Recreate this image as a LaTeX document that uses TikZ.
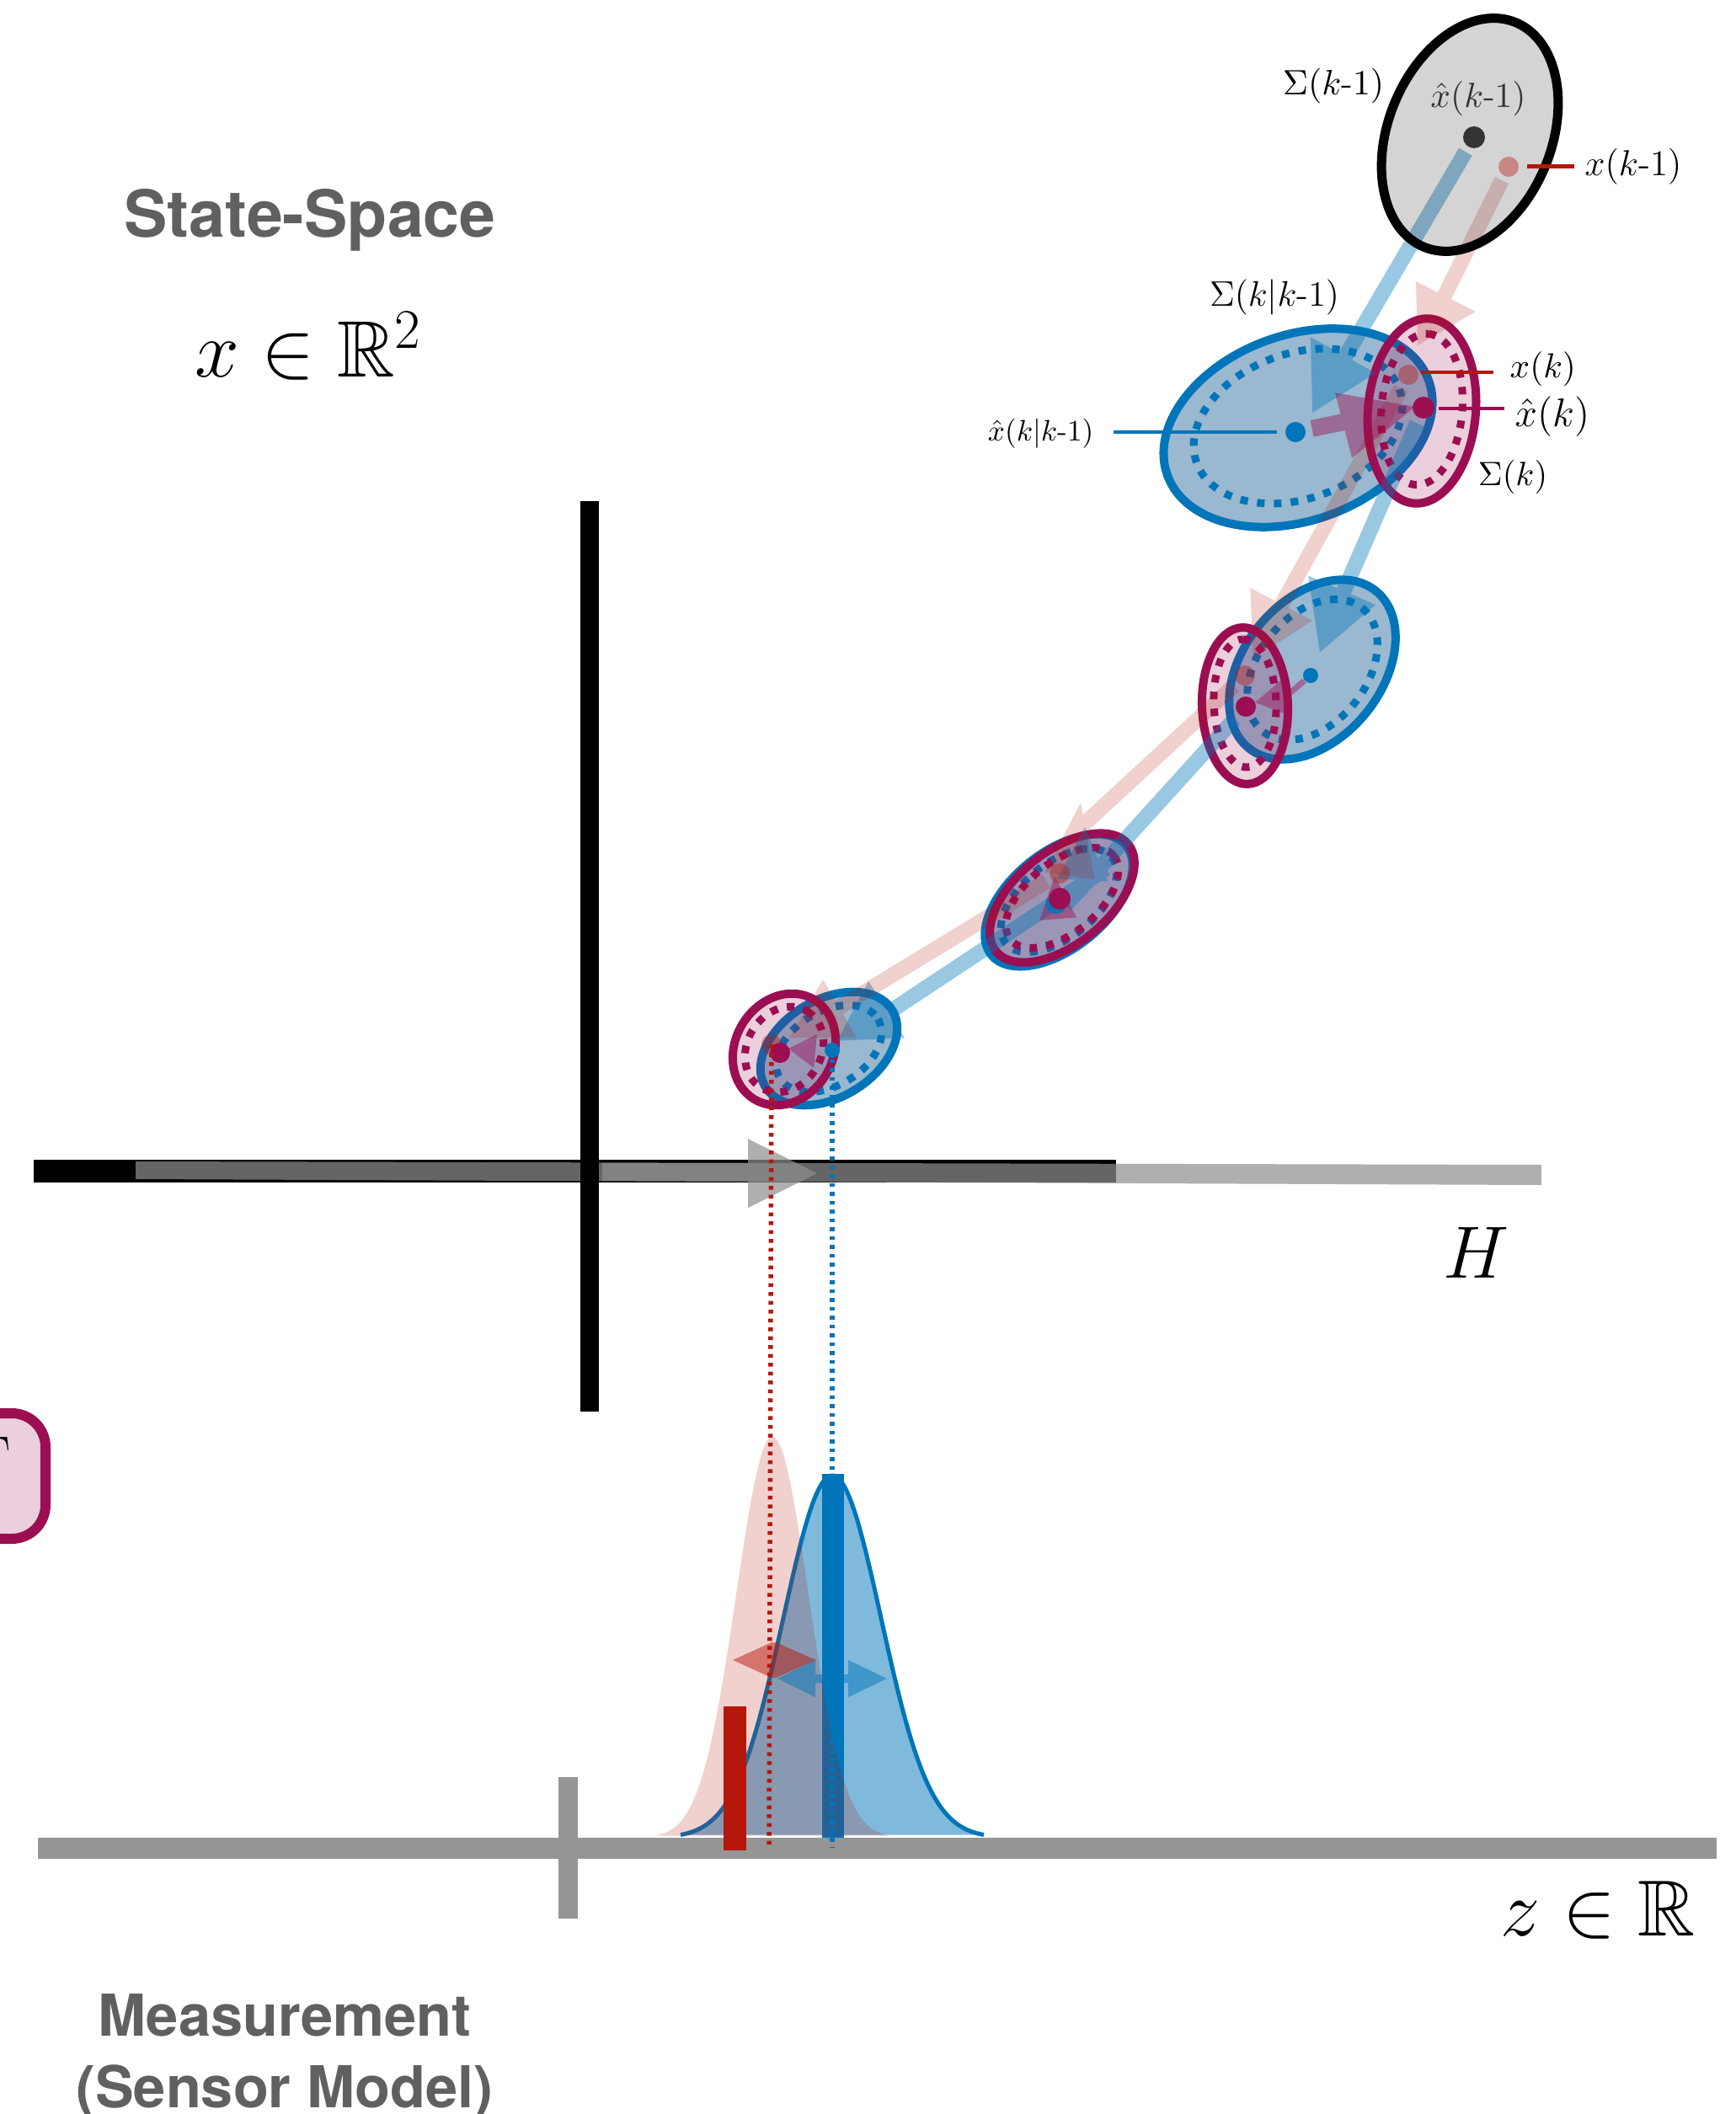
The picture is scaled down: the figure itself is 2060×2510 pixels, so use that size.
\RequirePackage{fix-cm}
\documentclass[tikz,border=0pt]{standalone}
\usepackage{amssymb}
\usepackage{fontspec}
\newfontfamily\headfont{TeX Gyre Heros}
\usetikzlibrary{calc}
\definecolor{kblue}{RGB}{0,117,185}
\definecolor{kred}{RGB}{181,23,11}
\definecolor{kpurple}{RGB}{155,14,82}
\definecolor{kpredfill}{RGB}{87,137,175}
\definecolor{kgraytxt}{RGB}{96,96,96}
\definecolor{kaxis}{RGB}{149,149,149}
\definecolor{karrow}{RGB}{143,143,143}
\definecolor{kdark}{RGB}{51,51,51}
\newcommand\KEll[5]{\path[#1, rotate around={#3:(#2)}] (#2) ellipse [x radius=#4, y radius=#5];}
\newcommand\KTri[4]{\fill[#1] (#2) -- ($(#3)!#4!90:(#2)$) -- ($(#3)!#4!-90:(#2)$) -- cycle;}
\newcommand\fs[1]{\fontsize{#1}{#1}\selectfont}
\begin{document}
\begin{tikzpicture}[x=0.01cm,y=-0.01cm,
  predell/.style={draw=kblue, line width=1mm, fill=kpredfill, fill opacity=0.6},
  preddot/.style={draw=kblue, line width=0.9mm, dash pattern=on 0.9mm off 1.1mm},
  updell/.style={draw=kpurple, line width=1mm, fill=kpurple, fill opacity=0.2},
  upddot/.style={draw=kpurple, line width=0.9mm, dash pattern=on 0.9mm off 1.1mm},
  grayell/.style={draw=black, line width=1.1mm, fill=black, fill opacity=0.17},
  bandb/.style={kblue, line width=1.8mm, shorten <=0.2cm},
  bandr/.style={kred, line width=1.8mm, shorten <=0.18cm},
  lab/.style={inner sep=0pt},
  head/.style={inner sep=0pt, text=kgraytxt, font=\headfont\bfseries}]
\useasboundingbox (0,0) rectangle (2060,2510);
\clip (0,0) rectangle (2060,2510);

% ---------- left partial box
\draw[kpurple, line width=1.2mm, fill=kpurple!20, rounded corners=0.4cm] (-150,1678) rectangle (54,1827);
\node[lab, anchor=north east, font=\fs{20}] (gam) at (14,1706) {$\Gamma$};

% ---------- state space axes
\fill[black] (40,1377) rectangle (1325,1404);
\fill[karrow, opacity=0.71] (161,1379) -- (1830,1383) -- (1830,1407) -- (161,1400) -- cycle;
\fill[karrow, opacity=0.71] (715,1381) -- (888,1381) -- (888,1352) -- (970,1393) -- (888,1434) -- (888,1402) -- (715,1402) -- cycle;
\fill[black] (689,595) rectangle (711,1676);

% ---------- texts
\node[head, anchor=base, font=\headfont\bfseries\fs{21.9}] (title) at (368,282) {State-Space};
\node[lab, anchor=base, font=\fs{27}] (xspace) at (366,448) {$x \in \mathbb{R}^2$};
\node[lab, anchor=base, font=\fs{25}] (Hlab) at (1753,1517) {$H$};
\node[lab, anchor=base, font=\fs{26.8}] (zspace) at (1897,2298) {$z \in \mathbb{R}$};
\node[head, anchor=base, font=\headfont\bfseries\fs{19.5}] (meas1) at (338,2417) {Measurement};
\node[head, anchor=base, font=\headfont\bfseries\fs{19.5}] (meas2) at (338,2502) {(Sensor Model)};

% ---------- coordinates of states
\coordinate (xh0) at (1750,163);  \coordinate (x0) at (1791,198);
\coordinate (xp1) at (1538,513);  \coordinate (xh1) at (1690,484); \coordinate (x1) at (1672,445);
\coordinate (xp2) at (1556,802);  \coordinate (xh2) at (1479,839); \coordinate (x2) at (1478,802);
\coordinate (xp3) at (1254,1073); \coordinate (xh3) at (1258,1067); \coordinate (x3) at (1258,1037);
\coordinate (xp4) at (988,1247);  \coordinate (xh4) at (926,1250); \coordinate (x4) at (916,1240);

% ---------- ellipses
\KEll{predell}{1541,508}{20}{165}{110}
\KEll{preddot}{1541,506}{20}{128}{86}
\KEll{updell}{1688,488}{85}{110}{64}
\KEll{upddot}{1688,486}{85}{90}{48}

\KEll{predell}{1558,795}{51}{120}{82}
\KEll{preddot}{1558,795}{51}{94}{64}
\KEll{updell}{1478,838}{92}{93}{51}
\KEll{upddot}{1478,835}{92}{76}{37}

\KEll{predell}{1257,1069}{39}{103}{57}
\KEll{preddot}{1257,1069}{39}{81}{44}
\KEll{updell}{1261,1066}{39}{101}{55}
\KEll{upddot}{1261,1066}{39}{79}{42}

\KEll{predell}{984,1245}{31}{88}{58}
\KEll{preddot}{984,1245}{31}{68}{44}
\KEll{updell}{931,1246}{59}{69}{58}
\KEll{upddot}{931,1246}{59}{53}{44}

% ---------- trajectory bands
\begin{scope}[transparency group, opacity=0.4]
  \draw[bandb] (xh0) -- (1585,444);
  \draw[bandb] (xh1) -- (1585,726);
  \draw[bandb] (xh2) -- (1265,1075);
  \draw[bandb] (1330,1020) -- (1040,1212);
  \KTri{kblue}{1633,443}{1557,445}{0.45cm}
  \KTri{kblue}{1633,718}{1560,729}{0.46cm}
  \KTri{kblue}{1288,982}{1285,1045}{0.30cm}
  \KTri{kblue}{1031,1165}{1034,1234}{0.40cm}
\end{scope}
\begin{scope}[transparency group, opacity=0.2]
  \draw[bandr] (x0) -- (1705,371);
  \draw[bandr] (x1) -- (1510,739);
  \draw[bandr] (x2) -- (1280,985);
  \draw[bandr] (x3) -- (985,1203);
  \KTri{kred}{1752,370}{1682,372}{0.38cm}
  \KTri{kred}{1558,737}{1486,740}{0.42cm}
  \KTri{kred}{1283,953}{1270,1040}{0.30cm}
  \KTri{kred}{977,1163}{977,1232}{0.40cm}
\end{scope}

% ---------- previous estimate
\KEll{grayell}{1745,160}{68}{144}{97}
\fill[kdark] (xh0) circle [radius=13];
\fill[kred, opacity=0.4] (x0) circle [radius=12];

% ---------- update arrows
\begin{scope}[transparency group, opacity=0.45]
  \draw[kpurple, line width=2mm, shorten <=0.2cm] (xp1) -- (1600,500);
  \KTri{kpurple}{1680,483}{1595,505}{0.40cm}
  \draw[kpurple, line width=0.7mm, shorten <=0.1cm] (xp2) -- (1525,828);
  \KTri{kpurple}{1490,834}{1525,828}{0.21cm}
  \KTri{kpurple}{1252,1040}{1256,1091}{0.22cm}
  \KTri{kpurple}{936,1245}{968,1248}{0.20cm}
\end{scope}

% ---------- dots
\fill[kblue] (xp1) circle [radius=12];
\fill[kblue] (xp2) circle [radius=9];
\fill[kblue] (xp3) circle [radius=12];
\fill[kblue] (xp4) circle [radius=9];
\fill[kred, opacity=0.4] (x1) circle [radius=12];
\fill[kred, opacity=0.4] (x2) circle [radius=12];
\fill[kred, opacity=0.4] (x3) circle [radius=12];
\fill[kred, opacity=0.4] (x4) circle [radius=12];
\fill[kpurple] (xh1) circle [radius=13];
\fill[kpurple] (xh2) circle [radius=12];
\fill[kpurple] (xh3) circle [radius=13];
\fill[kpurple] (xh4) circle [radius=12];

% ---------- labels
\node[lab, font=\fs{11.9}] (lS0) at (1583,102) {$\Sigma(k\mbox{-}1)$};
\node[lab, font=\fs{11.8}, text=kdark] (lxh0) at (1755,117) {$\hat{x}(k\mbox{-}1)$};
\node[lab, font=\fs{12.2}, anchor=west] (lx0) at (1881,198) {$x(k\mbox{-}1)$};
\node[lab, font=\fs{12}] (lS1p) at (1513,353) {$\Sigma(k|k\mbox{-}1)$};
\node[lab, font=\fs{10}, anchor=east] (lxp1) at (1299,515) {$\hat{x}(k|k\mbox{-}1)$};
\node[lab, font=\fs{11.7}, anchor=west] (lx1) at (1792,438) {$x(k)$};
\node[lab, font=\fs{13.5}, anchor=west] (lxh1) at (1798,495) {$\hat{x}(k)$};
\node[lab, font=\fs{11.4}] (lS1) at (1796,566) {$\Sigma(k)$};

\draw[kred, line width=0.5mm] ($(x0)+(22,0)$) -- (1869,198);
\draw[kblue, line width=0.4mm] (1322,513) -- ($(xp1)+(-22,0)$);
\draw[kred, line width=0.45mm] ($(x1)+(15,-3)$) -- (1773,442);
\draw[kpurple, line width=0.45mm] ($(xh1)+(18,1)$) -- (1786,485);

% ---------- measurement space
\fill[kblue, fill opacity=0.5] plot[domain=-180:180, samples=141] ({988+\x},{2182-430*exp(-0.5*(\x/58)^2)}) -- cycle;
\draw[kblue, line width=0.5mm] plot[domain=-180:180, samples=141] ({988+\x},{2182-430*exp(-0.5*(\x/58)^2)});
\fill[kblue] (976,1750) rectangle (1002,2182);
\fill[kred, fill opacity=0.2] plot[domain=-140:140, samples=121] ({917+\x},{2182-476*exp(-0.5*(\x/43)^2)}) -- cycle;
\fill[kaxis] (45,2182) rectangle (2038,2207);
\fill[kaxis] (663,2110) rectangle (686,2278);
\fill[kred] (859,2026) rectangle (886,2197);

\fill[kred, opacity=0.5] (870,1971) -- (916,1950) -- (921,1950) -- (969,1971) -- (921,1992) -- (916,1992) -- cycle;
\fill[kblue, opacity=0.5] (923,1993) -- (968,1971) -- (968,1988) -- (1007,1988) -- (1007,1971) -- (1053,1993) -- (1007,2015) -- (1007,1998) -- (968,1998) -- (968,2015) -- cycle;

\draw[kred, line width=0.55mm, dash pattern=on 0.45mm off 0.6mm] (x4) -- (913,2193);
\draw[kblue, line width=0.55mm, dash pattern=on 0.45mm off 0.6mm] (xp4) -- (988,2193);
\end{tikzpicture}
\end{document}
